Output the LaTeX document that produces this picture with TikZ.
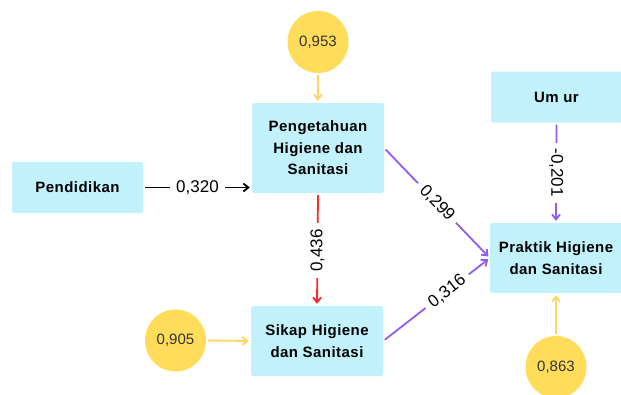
\documentclass[tikz,border=0pt]{standalone}
\usepackage{fontspec}
\setmainfont{Liberation Sans}
\usetikzlibrary{arrows.meta,shapes.geometric}
\definecolor{boxcyan}{RGB}{193,242,252}
\definecolor{circyel}{RGB}{255,220,90}
\definecolor{arryel}{RGB}{255,212,95}
\definecolor{arrpur}{RGB}{140,92,245}
\definecolor{arrred}{RGB}{255,40,40}
\tikzset{
  varbox/.style={fill=boxcyan, draw=none, rounded corners=2pt, align=center,
    font=\fontsize{15}{21.5}\selectfont\bfseries\addfontfeature{LetterSpace=3}, inner sep=0pt},
  errcirc/.style={ellipse, fill=circyel, draw=none, minimum width=61pt, minimum height=62pt,
    inner sep=0pt, font=\fontsize{15}{18}\selectfont, text=black!80},
  conn/.style={line width=1.8pt, -{Straight Barb[length=5pt,width=8pt,line width=1.8pt]},
    shorten <=2pt, shorten >=2pt},
  elabel/.style={fill=white, text=black, inner xsep=6pt, inner ysep=1pt, font=\fontsize{17}{20}\selectfont}
}
\begin{document}
\begin{tikzpicture}[x=1pt,y=-1pt]
\useasboundingbox (0,0) rectangle (621,394);
\clip (0,0) rectangle (621,394);
\node[varbox, minimum width=131pt, minimum height=51pt] (pend) at (77.5,187.5) {Pendidikan};
\node[varbox, minimum width=132pt, minimum height=90pt] (peng) at (318,148) {Pengetahuan\\Higiene dan\\Sanitasi};
\node[varbox, minimum width=132pt, minimum height=70pt] (sikap) at (317,341) {Sikap Higiene\\dan Sanitasi};
\node[varbox, minimum width=131pt, minimum height=51pt] (umur) at (556.5,97) {Um ur};
\node[varbox, minimum width=132pt, minimum height=70pt] (prak) at (556,258) {Praktik Higiene\\dan Sanitasi};
\node[errcirc] (e1) at (318,42) {0,953};
\node[errcirc] (e2) at (175.5,340.5) {0,905};
\node[errcirc] (e3) at (556,367) {0,863};
\draw[conn, black] (pend.east) -- node[elabel, pos=0.5] {0,320} (pend.east -| peng.west);
\draw[conn, arrred] (peng.south) -- node[elabel, rotate=90, pos=0.51] {0,436} (sikap.north);
\draw[conn, arrpur] (peng.east) -- node[elabel, sloped, pos=0.5] {0,299} (prak.west);
\draw[conn, arrpur] (sikap.east) -- node[elabel, sloped, pos=0.6] {0,316} (prak.west);
\draw[conn, arrpur] (umur.south) -- node[elabel, rotate=-90, pos=0.5] {-0,201} (prak.north);
\draw[conn, arryel] (e1.south) -- (peng.north);
\draw[conn, arryel] (e2.east) -- (sikap.west);
\draw[conn, arryel] (e3.north) -- (prak.south);
\end{tikzpicture}
\end{document}
